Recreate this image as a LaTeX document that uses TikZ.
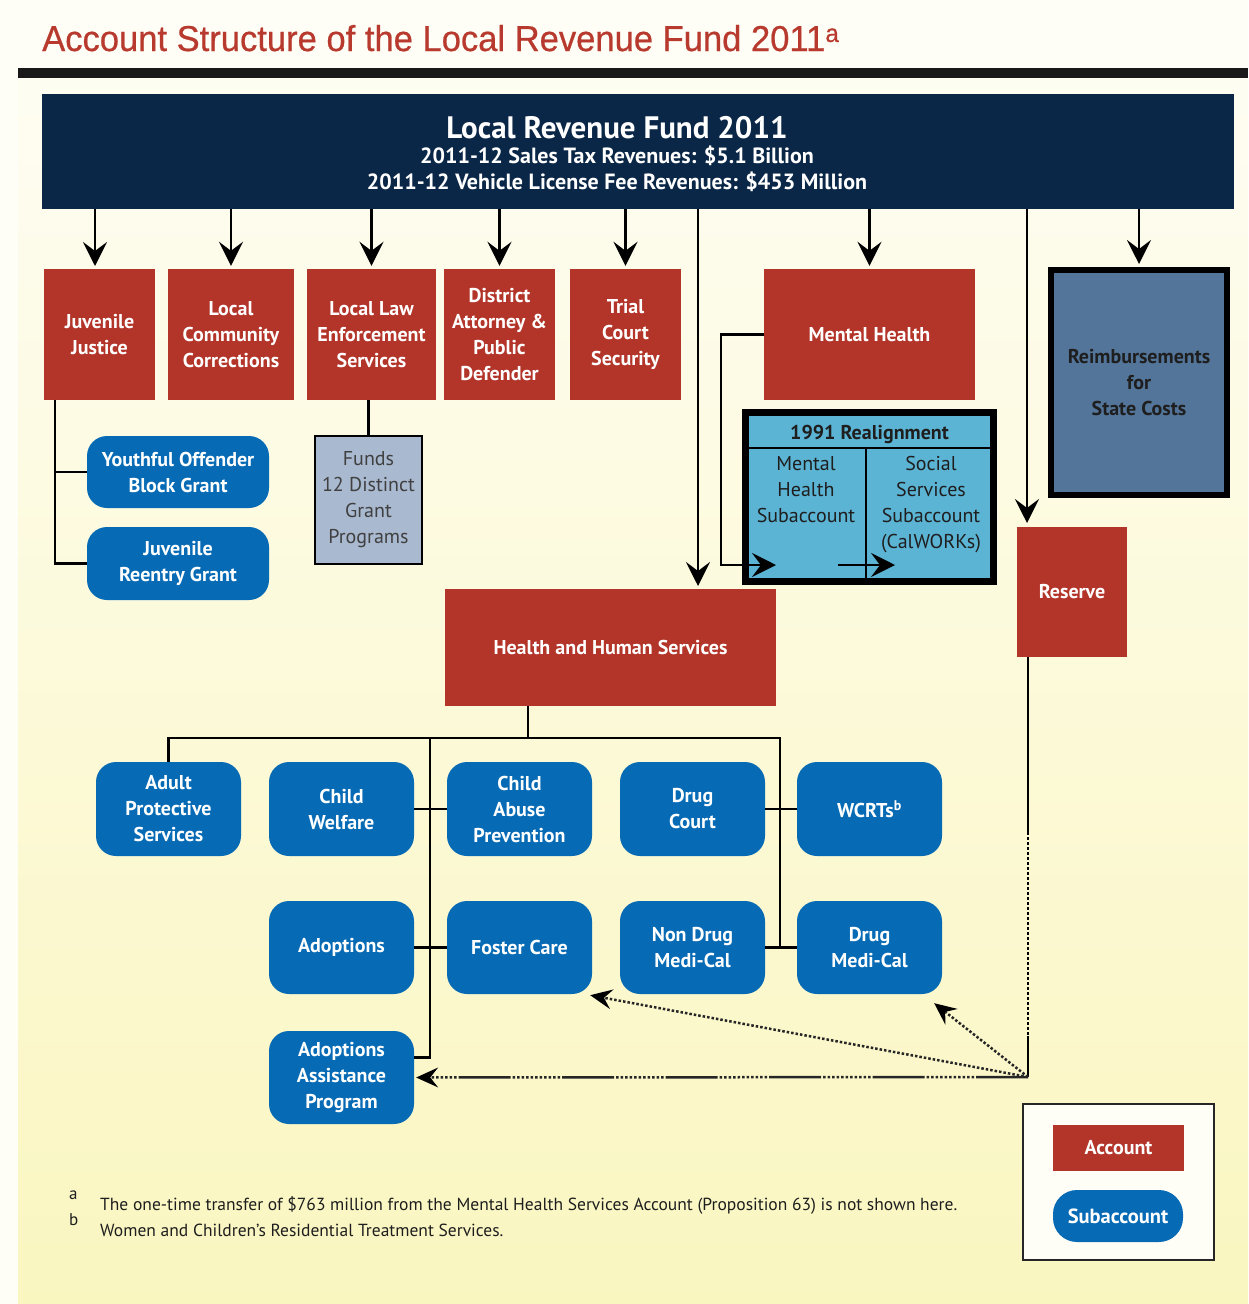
\documentclass[tikz,border=0pt]{standalone}
\usepackage{fontspec}
\setmainfont{PT Sans}
\newfontfamily\titlefont{Liberation Sans}[FakeStretch=0.96,FakeBold=0.6]
\usetikzlibrary{arrows.meta,calc}
\definecolor{navy}{HTML}{0B2747}
\definecolor{accred}{HTML}{B3352A}
\definecolor{subblue}{HTML}{066AB5}
\definecolor{realcyan}{HTML}{5CB4D4}
\definecolor{reimbblue}{HTML}{53759A}
\definecolor{fundsgray}{HTML}{A9B9D0}
\definecolor{titlered}{HTML}{B83A2E}
\definecolor{bgtop}{HTML}{FEFDF2}
\definecolor{bgbot}{HTML}{FAF6C0}
\definecolor{pagecream}{HTML}{FFFEF6}
\definecolor{darktext}{HTML}{1E1E1E}
\begin{document}
\begin{tikzpicture}[x=1pt,y=-1pt,
  boxfont/.style={font=\fontsize{20}{26}\selectfont\bfseries},
  redbox/.style={boxfont,fill=accred,text=white,align=center,inner sep=0pt,minimum height=131pt},
  bluebox/.style={boxfont,fill=subblue,text=white,align=center,inner sep=0pt,rounded corners=20pt,minimum width=145pt,minimum height=94pt},
  conn/.style={line width=2.5pt,draw=black},
  arr/.style={conn,-{Stealth[length=24pt,width=24pt,inset=9pt]}},
  dotarr/.style={line width=2.5pt,draw=black!85,dash pattern=on 2.5pt off 2pt,-{Stealth[length=22pt,width=20pt,inset=8pt,line width=0pt,fill=black]}},
  mixarr/.style={line width=2.5pt,draw=black!85,dash pattern=on 52pt off 2pt on 2.5pt off 2pt on 2.5pt off 2pt on 2.5pt off 2pt on 2.5pt off 2pt on 2.5pt off 2pt on 2.5pt off 2pt on 2.5pt off 2pt on 2.5pt off 2pt on 2.5pt off 2pt on 2.5pt off 2pt on 2.5pt off 2pt,-{Stealth[length=22pt,width=20pt,inset=8pt,line width=0pt,fill=black]}}
]
\useasboundingbox (0,0) rectangle (1248,1304);
% background
\fill[pagecream] (0,0) rectangle (1248,1304);
\shade[top color=bgtop,bottom color=bgbot] (18,78) rectangle (1248,1304);
\fill[black!90] (18,68) rectangle (1248,78);
\node[anchor=base west,text=titlered,inner sep=0pt,font=\titlefont\fontsize{36}{40}\selectfont] (title) at (42,51) {Account Structure of the Local Revenue Fund 2011\textsuperscript{a}};

% top fund box
\node[fill=navy,minimum width=1192pt,minimum height=115pt,inner sep=0pt] (top) at (638,151.5) {};
\node[anchor=base,text=white,inner sep=0pt,font=\fontsize{31}{34}\selectfont\bfseries] (t1) at (617,138) {Local Revenue Fund 2011};
\node[anchor=base,text=white,inner sep=0pt,font=\fontsize{22}{26}\selectfont\bfseries] (t2) at (617,163) {2011-12 Sales Tax Revenues: \$5.1 Billion};
\node[anchor=base,text=white,inner sep=0pt,font=\fontsize{22}{26}\selectfont\bfseries] (t3) at (617,189) {2011-12 Vehicle License Fee Revenues: \$453 Million};

% accounts row
\node[redbox,minimum width=111pt] (jj) at (99.5,334.5) {Juvenile\\Justice};
\node[redbox,minimum width=126pt] (lcc) at (231,334.5) {Local\\Community\\Corrections};
\node[redbox,minimum width=129pt] (lle) at (371.5,334.5) {Local Law\\Enforcement\\Services};
\node[redbox,minimum width=111pt] (da) at (499.5,334.5) {District\\Attorney \&\\Public\\Defender};
\node[redbox,minimum width=111pt] (tcs) at (625.5,334.5) {Trial\\Court\\Security};
\node[redbox,minimum width=211pt] (mh) at (869.5,334.5) {Mental Health};
\node[boxfont,fill=reimbblue,draw=black,line width=6pt,text=darktext,align=center,inner sep=0pt,minimum width=176pt,minimum height=225pt] (reimb) at (1139,382.5) {Reimbursements\\for\\State Costs};

% juvenile subaccounts
\node[bluebox,minimum width=182pt,minimum height=72pt] (yobg) at (178,472) {Youthful Offender\\Block Grant};
\node[bluebox,minimum width=182pt,minimum height=73pt] (jrg) at (178,563.5) {Juvenile\\Reentry Grant};
\node[font=\fontsize{20}{26}\selectfont,fill=fundsgray,draw=black,line width=2pt,text=black!75,align=center,inner sep=0pt,minimum width=107pt,minimum height=128pt] (funds) at (368.5,500) {Funds\\12 Distinct\\Grant\\Programs};

% 1991 realignment
\node[fill=realcyan,draw=black,line width=7pt,minimum width=248pt,minimum height=169pt,inner sep=0pt] (realign) at (869.5,497) {};
\draw[line width=2.5pt] (748,448) -- (991,448);
\draw[line width=2.5pt] (866,448) -- (866,579);
\node[anchor=base,inner sep=0pt,text=darktext,font=\fontsize{20}{26}\selectfont\bfseries] (rtitle) at (869.5,439) {1991 Realignment};
\node[anchor=north,inner sep=0pt,text=darktext,align=center,font=\fontsize{20}{26}\selectfont] (mhsub) at (806,456) {Mental\\Health\\Subaccount};
\node[anchor=north,inner sep=0pt,text=darktext,align=center,font=\fontsize{20}{26}\selectfont] (sssub) at (931,456) {Social\\Services\\Subaccount\\(CalWORKs)};

% reserve and HHS
\node[redbox,minimum width=110pt,minimum height=130pt] (reserve) at (1072,592) {Reserve};
\node[redbox,minimum width=331pt,minimum height=117pt] (hhs) at (610.5,647.5) {Health and Human Services};

% HHS subaccounts
\node[bluebox] (aps) at (168.5,809) {Adult\\Protective\\Services};
\node[bluebox] (cw) at (341.5,809) {Child\\Welfare};
\node[bluebox] (cap) at (519.5,809) {Child\\Abuse\\Prevention};
\node[bluebox] (dc) at (692.5,809) {Drug\\Court};
\node[bluebox] (wc) at (869.5,809) {WCRTs\textsuperscript{b}};
\node[bluebox,minimum height=93pt] (adop) at (341.5,947.5) {Adoptions};
\node[bluebox,minimum height=93pt] (fc) at (519.5,947.5) {Foster Care};
\node[bluebox,minimum height=93pt] (ndmc) at (692.5,947.5) {Non Drug\\Medi-Cal};
\node[bluebox,minimum height=93pt] (dmc) at (869.5,947.5) {Drug\\Medi-Cal};
\node[bluebox,minimum height=93pt] (aap) at (341.5,1077.5) {Adoptions\\Assistance\\Program};

% connectors from the fund
\coordinate (jjin) at (95,269);
\draw[arr,shorten >=3pt] (top.south -| jjin) -- (jjin);
\foreach \n in {lcc,lle,da,tcs,mh,reimb}{
  \draw[arr,shorten >=3pt] (top.south -| \n.north) -- (\n.north);
}
\coordinate (hhsin) at (698,589);
\draw[arr,shorten >=3pt] (top.south -| hhsin) -- (hhsin);
\coordinate (resin) at (1027,527);
\draw[arr,shorten >=4pt] (top.south -| resin) -- (resin);

% juvenile justice branches
\coordinate (jjx) at (55,400);
\draw[conn] (jjx) -- (jjx |- jrg.west) -- (jrg.west);
\draw[conn] (jjx |- yobg.west) -- (yobg.west);
\draw[conn] (lle.south -| funds.north) -- (funds.north);

% mental health to realignment
\coordinate (mhin) at (776,565);
\draw[arr] (mh.west) -- ++(-43,0) |- (mhin);
\coordinate (ssa) at (838,565);
\coordinate (ssb) at (895,565);
\draw[arr] (ssa) -- (ssb);

% HHS tree
\coordinate (hb) at (528,738);
\coordinate (lb) at (430,738);
\coordinate (rb) at (780,738);
\draw[conn] (hhs.south -| hb) -- (hb);
\draw[conn] (aps.north) |- (rb) -- (rb |- dmc.west);
\draw[conn] (lb) |- ([yshift=20pt]aap.east);
\draw[conn] (cw.east) -- (cap.west);
\draw[conn] (adop.east) -- (fc.west);
\draw[conn] (dc.east) -- (wc.west);
\draw[conn] (ndmc.east) -- (dmc.west);

% reserve transfers
\coordinate (rv1) at (1028,832);
\coordinate (rv2) at (1028,1036);
\coordinate (rv) at (1028,1077);
\draw[conn] (reserve.south -| rv1) -- (rv1);
\draw[line width=2.5pt,dash pattern=on 3pt off 2pt] (rv1) -- (rv2);
\draw[conn] (rv2) -- (rv);
\draw[mixarr,shorten >=2pt] (rv) -- (aap.east);
\draw[dotarr] (rv) -- ([shift={(-2pt,-1pt)}]fc.south east);
\draw[dotarr] (rv) -- ([shift={(-8pt,-9pt)}]dmc.south east);

% footnotes
\node[anchor=base west,inner sep=0pt,text=darktext,font=\fontsize{17}{20}\selectfont] (fa) at (69,1199) {a};
\node[anchor=base west,inner sep=0pt,text=darktext,font=\fontsize{17}{20}\selectfont] (fb) at (69,1225) {b};
\node[anchor=base west,inner sep=0pt,text=darktext,font=\fontsize{17.5}{20}\selectfont] (fta) at (100,1210) {The one-time transfer of \$763 million from the Mental Health Services Account (Proposition 63) is not shown here.};
\node[anchor=base west,inner sep=0pt,text=darktext,font=\fontsize{17.5}{20}\selectfont] (ftb) at (100,1236) {Women and Children's Residential Treatment Services.};

% legend
\node[fill=pagecream,draw=black!85,line width=2.5pt,minimum width=191pt,minimum height=156pt,inner sep=0pt] (legend) at (1118.5,1182) {};
\node[fill=accred,text=white,font=\fontsize{20}{22}\selectfont\bfseries,minimum width=131pt,minimum height=46pt,inner sep=0pt] (lacc) at (1118.5,1148) {Account};
\node[fill=subblue,text=white,font=\fontsize{20.5}{22}\selectfont\bfseries,minimum width=130pt,minimum height=52pt,inner sep=0pt,rounded corners=24pt] (lsub) at (1118,1216) {Subaccount};
\end{tikzpicture}
\end{document}
